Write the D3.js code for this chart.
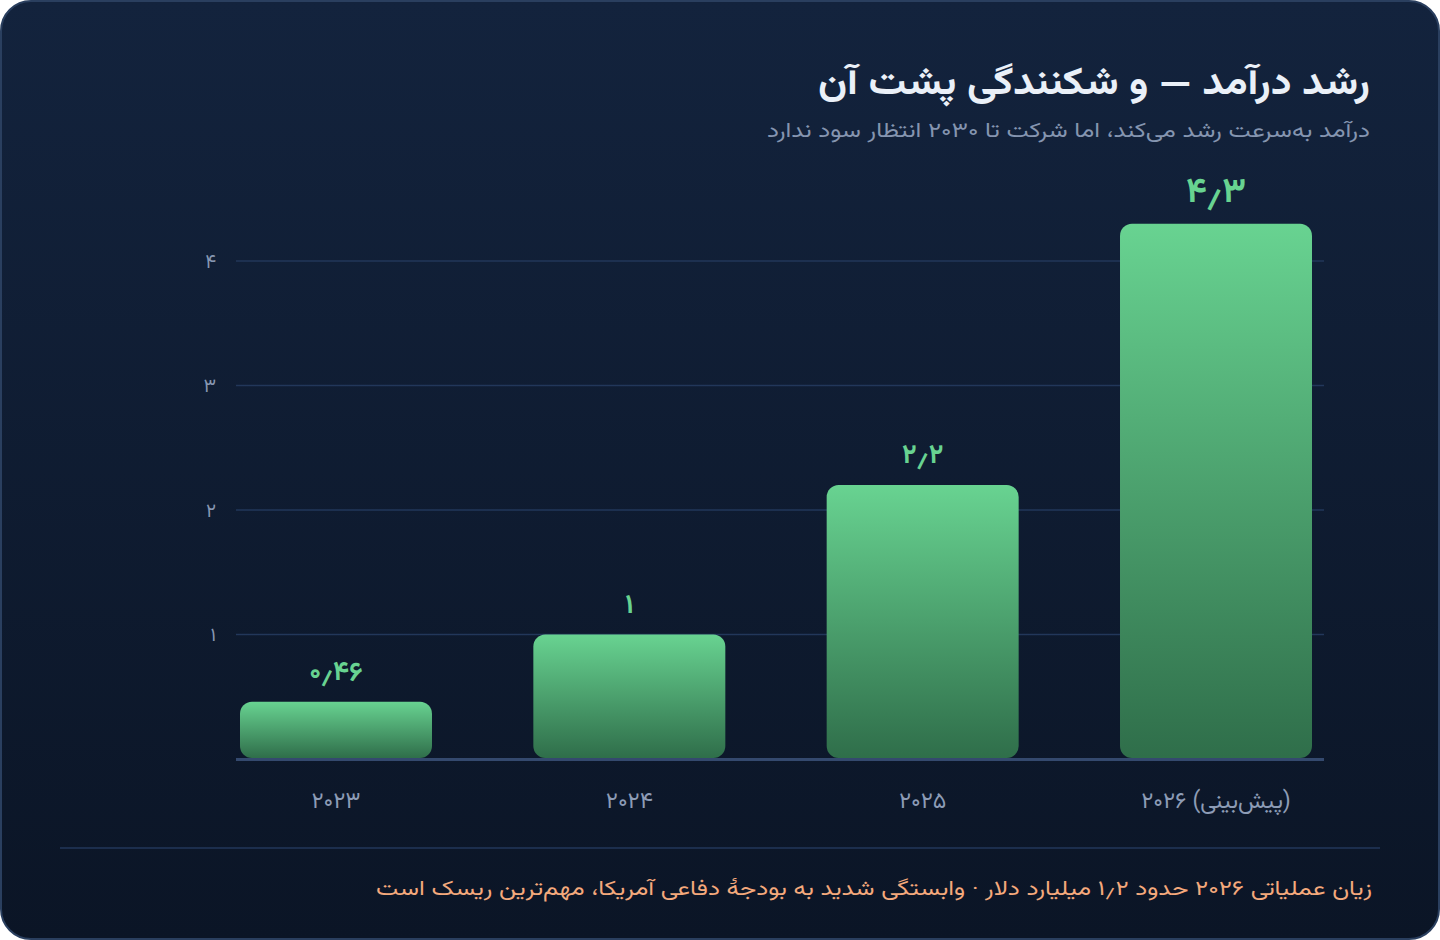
<!DOCTYPE html>
<html lang="fa">
<head>
  <meta charset="UTF-8" />
  <title>رشد درآمد</title>
  <script src="https://d3js.org/d3.v7.min.js"></script>
  <style>
    body {
      margin: 0;
      background: #ffffff;
      font-family: Vazirmatn, 'Noto Sans Arabic', 'DejaVu Sans', sans-serif;
    }
    svg { display: block; }
    .tick-label { fill: #8797b2; font-size: 19px; }
    .cat-label { fill: #8d9cb6; font-size: 23px; }
    .val-label { fill: #68d391; font-weight: 700; }
  </style>
</head>
<body>
  <svg width="1440" height="940"></svg>
  <script>
    // data
    const years = ["۲۰۲۳", "۲۰۲۴", "۲۰۲۵", "(پیش‌بینی) ۲۰۲۶"];
    const revenue = [0.46, 1, 2.2, 4.3];
    const yTicks = [1, 2, 3, 4];

    const title = "رشد درآمد — و شکنندگی پشت آن";
    const subtitle = "درآمد به‌سرعت رشد می‌کند، اما شرکت تا ۲۰۳۰ انتظار سود ندارد";
    const note = "زیان عملیاتی ۲۰۲۶ حدود ۱٫۲ میلیارد دلار · وابستگی شدید به بودجهٔ دفاعی آمریکا، مهم‌ترین ریسک است";

    const faDigits = "۰۱۲۳۴۵۶۷۸۹";
    const toFa = n => String(n).replace(/\d/g, d => faDigits[d]).replace(".", "٫");

    const data = years.map((y, i) => ({ year: y, value: revenue[i], last: i === years.length - 1 }));

    const svg = d3.select("svg");
    const defs = svg.append("defs");

    const bg = defs.append("linearGradient").attr("id", "bg")
      .attr("x1", 0).attr("y1", 0).attr("x2", 0).attr("y2", 1);
    bg.append("stop").attr("offset", "0%").attr("stop-color", "#13233d");
    bg.append("stop").attr("offset", "100%").attr("stop-color", "#0b1526");

    const barGrad = defs.append("linearGradient").attr("id", "bar")
      .attr("x1", 0).attr("y1", 0).attr("x2", 0).attr("y2", 1);
    barGrad.append("stop").attr("offset", "0%").attr("stop-color", "#68d391");
    barGrad.append("stop").attr("offset", "100%").attr("stop-color", "#2f6e4a");

    // card
    svg.append("rect")
      .attr("x", 1).attr("y", 1).attr("width", 1438).attr("height", 938)
      .attr("rx", 30)
      .attr("fill", "url(#bg)")
      .attr("stroke", "#2a3f5f").attr("stroke-width", 2);

    // heading (stretched to the width the reference font takes)
    svg.append("text")
      .attr("x", 1370).attr("y", 94)
      .attr("direction", "rtl").attr("text-anchor", "start")
      .attr("fill", "#eaf0f8").attr("font-size", 38).attr("font-weight", 700)
      .attr("textLength", 552).attr("lengthAdjust", "spacingAndGlyphs")
      .text(title);

    svg.append("text")
      .attr("x", 1370).attr("y", 137)
      .attr("direction", "rtl").attr("text-anchor", "start")
      .attr("fill", "#8595b0").attr("font-size", 21)
      .attr("textLength", 603).attr("lengthAdjust", "spacingAndGlyphs")
      .text(subtitle);

    const left = 236, right = 1324, base = 759;

    const x = d3.scaleBand()
      .domain(years)
      .range([240, 1312])
      .paddingInner(0.3455)
      .paddingOuter(0);

    const y = d3.scaleLinear()
      .domain([0, 4])
      .range([base, 261]);

    // grid
    svg.append("g")
      .selectAll("line")
      .data(yTicks)
      .join("line")
      .attr("x1", left).attr("x2", right)
      .attr("y1", d => y(d)).attr("y2", d => y(d))
      .attr("stroke", "#22375a").attr("stroke-width", 1.5);

    svg.append("g")
      .selectAll("text")
      .data(yTicks)
      .join("text")
      .attr("class", "tick-label")
      .attr("x", 216).attr("y", d => y(d))
      .attr("dy", "0.35em")
      .attr("text-anchor", "end")
      .text(d => toFa(d));

    // bars
    svg.append("g")
      .selectAll("rect")
      .data(data)
      .join("rect")
      .attr("x", d => x(d.year))
      .attr("y", d => y(d.value))
      .attr("width", x.bandwidth())
      .attr("height", d => y(0) - y(d.value) - 1)
      .attr("rx", 12)
      .attr("fill", "url(#bar)");

    // baseline
    svg.append("line")
      .attr("x1", left).attr("x2", right)
      .attr("y1", base + 0.5).attr("y2", base + 0.5)
      .attr("stroke", "#34496e").attr("stroke-width", 3);

    // value labels
    svg.append("g")
      .selectAll("text")
      .data(data)
      .join("text")
      .attr("class", "val-label")
      .attr("x", d => x(d.year) + x.bandwidth() / 2)
      .attr("y", d => y(d.value) - 22)
      .attr("text-anchor", "middle")
      .attr("font-size", d => d.last ? 35 : 27)
      .text(d => toFa(d.value));

    // category labels
    svg.append("g")
      .selectAll("text")
      .data(data)
      .join("text")
      .attr("class", "cat-label")
      .attr("x", d => x(d.year) + x.bandwidth() / 2)
      .attr("y", 808)
      .attr("direction", "rtl")
      .attr("text-anchor", "middle")
      .text(d => d.year);

    // divider + note
    svg.append("line")
      .attr("x1", 60).attr("x2", 1380)
      .attr("y1", 848).attr("y2", 848)
      .attr("stroke", "#22375a").attr("stroke-width", 1.5);

    svg.append("text")
      .attr("x", 1372).attr("y", 895)
      .attr("direction", "rtl").attr("text-anchor", "start")
      .attr("fill", "#f4a97c").attr("font-size", 21)
      .attr("textLength", 996).attr("lengthAdjust", "spacingAndGlyphs")
      .text(note);
  </script>
</body>
</html>
